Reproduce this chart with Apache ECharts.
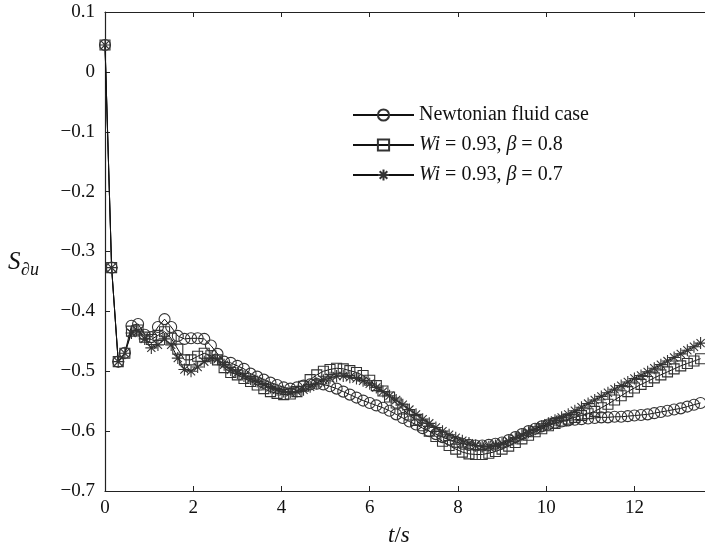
<!DOCTYPE html>
<html>
<head>
<meta charset="utf-8">
<script src="https://cdn.jsdelivr.net/npm/echarts@6/dist/echarts.min.js"></script>
<style>html,body{margin:0;padding:0;background:#fff}#c{width:705px;height:551px}</style>
</head>
<body>
<div id="c"></div>
<script>
const t = [0,0.15,0.3,0.45,0.6,0.75,0.9,1.05,1.2,1.35,1.5,1.65,1.8,1.95,2.1,2.25,2.4,2.55,2.7,2.85,3.0,3.15,3.3,3.45,3.6,3.75,3.9,4.05,4.2,4.35,4.5,4.65,4.8,4.95,5.1,5.25,5.4,5.55,5.7,5.85,6.0,6.15,6.3,6.45,6.6,6.75,6.9,7.05,7.2,7.35,7.5,7.65,7.8,7.95,8.1,8.25,8.4,8.55,8.7,8.85,9.0,9.15,9.3,9.45,9.6,9.75,9.9,10.05,10.2,10.35,10.5,10.65,10.8,10.95,11.1,11.25,11.4,11.55,11.7,11.85,12.0,12.15,12.3,12.45,12.6,12.75,12.9,13.05,13.2,13.35,13.5];

const newtonian = [0.045,-0.327,-0.484,-0.469,-0.424,-0.421,-0.439,-0.443,-0.426,-0.413,-0.426,-0.441,-0.446,-0.445,-0.445,-0.446,-0.457,-0.471,-0.484,-0.486,-0.491,-0.496,-0.504,-0.509,-0.514,-0.519,-0.523,-0.527,-0.529,-0.527,-0.524,-0.522,-0.521,-0.522,-0.525,-0.529,-0.534,-0.539,-0.544,-0.549,-0.553,-0.557,-0.561,-0.566,-0.572,-0.578,-0.584,-0.589,-0.595,-0.600,-0.605,-0.610,-0.614,-0.618,-0.621,-0.623,-0.624,-0.624,-0.623,-0.621,-0.619,-0.615,-0.610,-0.605,-0.600,-0.596,-0.592,-0.589,-0.586,-0.584,-0.582,-0.581,-0.580,-0.579,-0.578,-0.577,-0.577,-0.576,-0.576,-0.575,-0.574,-0.573,-0.572,-0.570,-0.568,-0.566,-0.564,-0.562,-0.559,-0.556,-0.553];

const beta08 = [0.045,-0.327,-0.484,-0.470,-0.433,-0.431,-0.443,-0.447,-0.440,-0.434,-0.445,-0.463,-0.481,-0.481,-0.475,-0.470,-0.474,-0.481,-0.494,-0.502,-0.506,-0.512,-0.517,-0.523,-0.529,-0.534,-0.537,-0.539,-0.538,-0.534,-0.525,-0.514,-0.506,-0.500,-0.497,-0.495,-0.496,-0.499,-0.502,-0.507,-0.515,-0.524,-0.533,-0.543,-0.553,-0.563,-0.573,-0.582,-0.591,-0.600,-0.609,-0.617,-0.624,-0.630,-0.635,-0.638,-0.639,-0.639,-0.637,-0.634,-0.630,-0.625,-0.619,-0.613,-0.607,-0.601,-0.596,-0.591,-0.587,-0.583,-0.580,-0.577,-0.574,-0.571,-0.567,-0.561,-0.555,-0.548,-0.541,-0.534,-0.528,-0.522,-0.517,-0.511,-0.506,-0.501,-0.496,-0.491,-0.487,-0.483,-0.479];

const beta07 = [0.045,-0.327,-0.484,-0.470,-0.436,-0.433,-0.446,-0.461,-0.456,-0.446,-0.456,-0.478,-0.497,-0.500,-0.493,-0.484,-0.478,-0.480,-0.489,-0.498,-0.503,-0.508,-0.513,-0.517,-0.522,-0.527,-0.531,-0.534,-0.535,-0.534,-0.531,-0.526,-0.520,-0.515,-0.511,-0.508,-0.508,-0.510,-0.512,-0.516,-0.521,-0.527,-0.534,-0.541,-0.548,-0.556,-0.564,-0.572,-0.580,-0.587,-0.594,-0.600,-0.606,-0.611,-0.616,-0.620,-0.624,-0.626,-0.626,-0.624,-0.621,-0.617,-0.612,-0.607,-0.602,-0.597,-0.592,-0.587,-0.582,-0.577,-0.572,-0.566,-0.560,-0.554,-0.548,-0.542,-0.536,-0.530,-0.524,-0.518,-0.512,-0.507,-0.501,-0.495,-0.489,-0.483,-0.477,-0.471,-0.465,-0.459,-0.453];

const seriesNames = ['Newtonian fluid case', 'Wi = 0.93, β = 0.8', 'Wi = 0.93, β = 0.7'];
const legendLabels = ['Newtonian fluid case', '{i|Wi} = 0.93, {i|β} = 0.8', '{i|Wi} = 0.93, {i|β} = 0.7'];
const xTicks = [0, 2, 4, 6, 8, 10, 12];

const FONT = "'Liberation Serif','Times New Roman',serif";
const STAR = 'path://M5,0L5,10M0,5L10,5M1.6,1.6L8.4,8.4M1.6,8.4L8.4,1.6';

function pairs(ys){ return ys.map((v,i)=>[t[i], v]); }
function fmtY(v){ const r = Math.round(v*10)/10; if (r === 0) return '0'; return (r<0?'\u2212':'') + Math.abs(r).toFixed(1); }

const chart = echarts.init(document.getElementById('c'), null, {renderer:'canvas'});
const axisLine = {show:true, onZero:false, lineStyle:{color:'#222', width:1.2}};
function mkSeries(name, data, symbol, size){
  return {
    name, type:'line', data: pairs(data), symbol, symbolSize:size, showAllSymbol:true,
    lineStyle:{color:'#111', width:1},
    itemStyle:{color:'none', borderColor:'#333', borderWidth:1.1},
    emphasis:{disabled:true}, animation:false, z: 3
  };
}
chart.setOption({
  animation:false,
  backgroundColor:'#fff',
  textStyle:{fontFamily:FONT},
  grid:{left:105, top:12, right:-2, bottom:60, containLabel:false},
  legend:{
    orient:'vertical', left:352, top:105, itemWidth:61, itemHeight:14, itemGap:10, padding:0,
    data: seriesNames,
    formatter: function(name){ return legendLabels[seriesNames.indexOf(name)]; },
    textStyle:{fontFamily:FONT, fontSize:20, color:'#111', rich:{i:{fontFamily:FONT, fontSize:20, fontStyle:'italic', color:'#111'}}},
    selectedMode:false
  },
  xAxis:[
    {type:'value', position:'bottom', min:0, max:13.6, interval:2,
      axisLine: axisLine, splitLine:{show:false},
      axisLabel:{show:true, fontFamily:FONT, fontSize:19, color:'#111', margin:8,
        customValues: xTicks, formatter: v => String(v)},
      axisTick:{show:true, inside:true, length:5, customValues: xTicks, lineStyle:{color:'#222'}}
    },
    {type:'value', position:'top', min:0, max:13.6, interval:2,
      axisLine: axisLine, splitLine:{show:false},
      axisLabel:{show:false},
      axisTick:{show:true, inside:true, length:5, customValues: xTicks, lineStyle:{color:'#222'}}
    }
  ],
  yAxis:[
    {type:'value', position:'left', min:-0.7, max:0.1, interval:0.1,
      axisLine: axisLine, splitLine:{show:false},
      axisTick:{show:true, inside:true, length:5, lineStyle:{color:'#222'}},
      axisLabel:{show:true, fontFamily:FONT, fontSize:19, color:'#111', margin:10, formatter: fmtY}
    }
  ],
  series:[
    mkSeries(seriesNames[0], newtonian, 'circle', 11),
    mkSeries(seriesNames[1], beta08, 'rect', 10),
    mkSeries(seriesNames[2], beta07, STAR, 12)
  ],
  graphic:[
    {type:'text', left:8, top:250, style:{text:'S', font:"italic 25px "+FONT, fill:'#111'}},
    {type:'text', left:21, top:261, style:{text:'\u2202u', font:"italic 18px "+FONT, fill:'#111'}},
    {type:'text', left:388, top:524, style:{rich:{i:{font:"italic 23px "+FONT, fill:'#111'}, n:{font:"23px "+FONT, fill:'#111'}}, text:'{i|t}{n|/}{i|s}'}}
  ]
});
</script>
</body>
</html>
